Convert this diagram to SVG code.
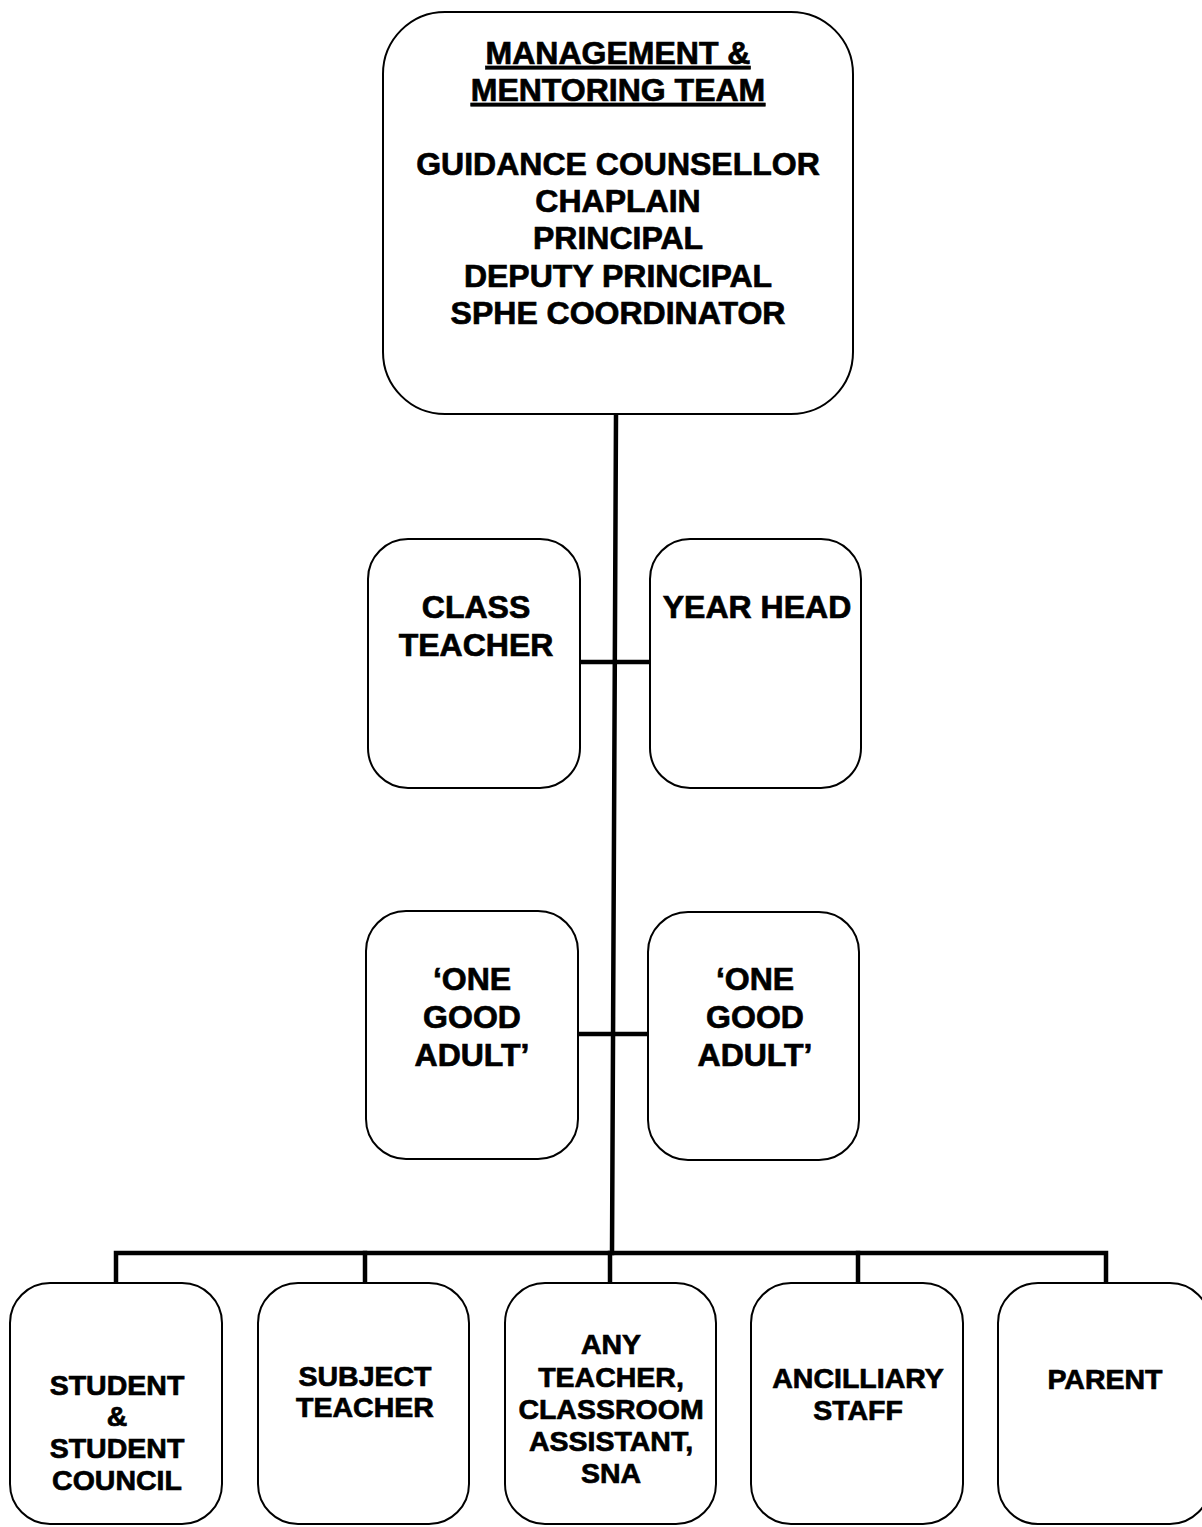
<svg xmlns="http://www.w3.org/2000/svg" width="1202" height="1527" viewBox="0 0 1202 1527">
<style>
.box{fill:#fff;stroke:#000;stroke-width:2}
.t{font-family:"Liberation Sans",Arial,sans-serif;font-weight:bold;font-size:32px;text-anchor:middle;fill:#000;stroke:#000;stroke-width:0.7}
.s{font-family:"Liberation Sans",Arial,sans-serif;font-weight:bold;font-size:28.5px;text-anchor:middle;fill:#000;stroke:#000;stroke-width:0.7}
.c{fill:none;stroke:#000;stroke-width:4.5;stroke-linecap:square}
</style>
<rect width="1202" height="1527" fill="#fff"/>
<g id="connectors">
<path class="c" d="M616 414 L612 1253"/>
<path class="c" d="M580 662 L650 662"/>
<path class="c" d="M578 1034 L648 1034"/>
<path class="c" d="M116 1282 L116 1253 L1106 1253 L1106 1282"/>
<path class="c" d="M365 1253 L365 1282"/>
<path class="c" d="M610 1253 L610 1282"/>
<path class="c" d="M858 1253 L858 1282"/>
</g>
<g id="management">
<rect class="box" x="383" y="12" width="470" height="402" rx="62" ry="62"/>
<text class="t" x="618" y="64" text-decoration="underline">MANAGEMENT &amp;</text>
<text class="t" x="618" y="101" text-decoration="underline">MENTORING TEAM</text>
<text class="t" x="618" y="175">GUIDANCE COUNSELLOR</text>
<text class="t" x="618" y="212">CHAPLAIN</text>
<text class="t" x="618" y="249">PRINCIPAL</text>
<text class="t" x="618" y="287">DEPUTY PRINCIPAL</text>
<text class="t" x="618" y="324">SPHE COORDINATOR</text>
</g>
<g id="class-teacher">
<rect class="box" x="368" y="539" width="212" height="249" rx="40" ry="40"/>
<text class="t" x="476" y="618">CLASS</text>
<text class="t" x="476" y="656">TEACHER</text>
</g>
<g id="year-head">
<rect class="box" x="650" y="539" width="211" height="249" rx="40" ry="40"/>
<text class="t" x="757" y="618">YEAR HEAD</text>
</g>
<g id="one-good-adult-left">
<rect class="box" x="366" y="911" width="212" height="248" rx="40" ry="40"/>
<text class="t" x="472" y="990">‘ONE</text>
<text class="t" x="472" y="1028">GOOD</text>
<text class="t" x="472" y="1066">ADULT’</text>
</g>
<g id="one-good-adult-right">
<rect class="box" x="648" y="912" width="211" height="248" rx="40" ry="40"/>
<text class="t" x="755" y="990">‘ONE</text>
<text class="t" x="755" y="1028">GOOD</text>
<text class="t" x="755" y="1066">ADULT’</text>
</g>
<g id="student">
<rect class="box" x="10" y="1283" width="212" height="241" rx="40" ry="40"/>
<text class="s" x="117" y="1395">STUDENT</text>
<text class="s" x="117" y="1426">&amp;</text>
<text class="s" x="117" y="1458">STUDENT</text>
<text class="s" x="117" y="1490">COUNCIL</text>
</g>
<g id="subject-teacher">
<rect class="box" x="258" y="1283" width="211" height="241" rx="40" ry="40"/>
<text class="s" x="365" y="1386">SUBJECT</text>
<text class="s" x="365" y="1417">TEACHER</text>
</g>
<g id="any-teacher">
<rect class="box" x="505" y="1283" width="211" height="241" rx="40" ry="40"/>
<text class="s" x="611" y="1354">ANY</text>
<text class="s" x="611" y="1387">TEACHER,</text>
<text class="s" x="611" y="1419">CLASSROOM</text>
<text class="s" x="611" y="1451">ASSISTANT,</text>
<text class="s" x="611" y="1483">SNA</text>
</g>
<g id="ancilliary-staff">
<rect class="box" x="751" y="1283" width="212" height="241" rx="40" ry="40"/>
<text class="s" x="858" y="1388">ANCILLIARY</text>
<text class="s" x="858" y="1420">STAFF</text>
</g>
<g id="parent">
<rect class="box" x="998" y="1283" width="212" height="241" rx="40" ry="40"/>
<text class="s" x="1105" y="1389">PARENT</text>
</g>
</svg>
